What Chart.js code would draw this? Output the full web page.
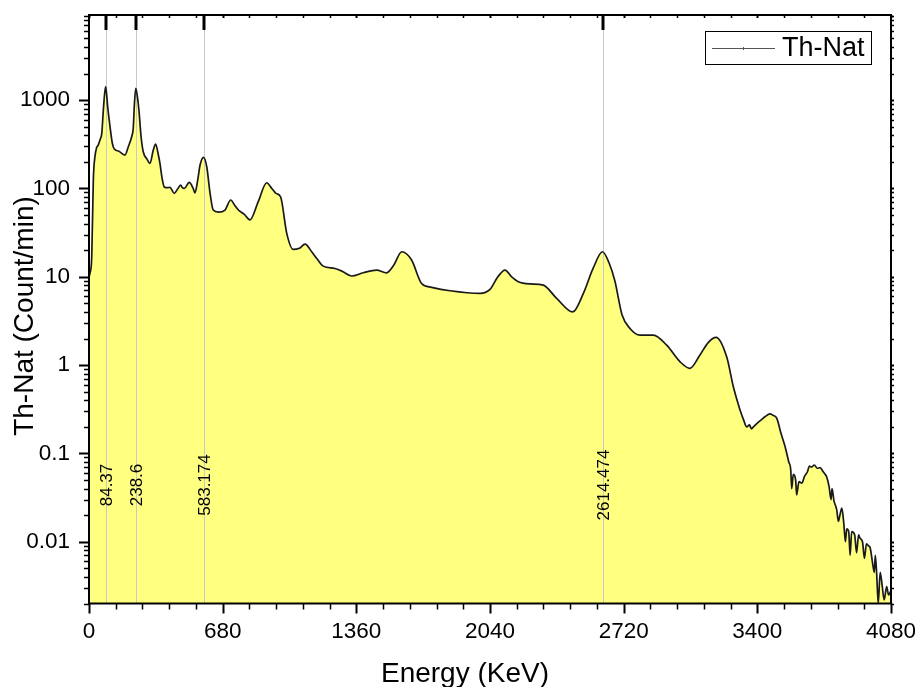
<!DOCTYPE html>
<html>
<head>
<meta charset="utf-8">
<script src="https://cdn.jsdelivr.net/npm/chart.js@4.4.1/dist/chart.umd.min.js"></script>
<style>
    html, body { margin: 0; padding: 0; background: #fff; }
    #wrap { width: 915px; height: 687px; position: relative; }
</style>
</head>
<body>
<div id="wrap"><canvas id="spectrumChart"></canvas></div>
<script>
// ==========================================
// 1. DADOS
// ==========================================

const seriesName = 'Th-Nat';
const xTitle = 'Energy (KeV)';
const yTitle = 'Th-Nat (Count/min)';

// energia (keV)
const energies = [
    0, 5, 14, 22, 30, 39, 47, 57, 65, 73, 79, 85, 95, 107, 119, 129, 150, 183, 200, 217,
    225, 231, 238, 246, 254, 265, 276, 295, 310, 327, 339, 353, 361, 372, 383, 400, 412, 434, 450, 466,
    475, 485, 510, 530, 539, 553, 565, 583, 599, 616, 632, 658, 692, 721, 740, 760, 790, 819, 861, 904,
    930, 951, 975, 1006, 1039, 1070, 1099, 1133, 1160, 1192, 1251, 1290, 1336, 1395, 1463, 1514, 1550, 1591, 1641, 1692,
    1743, 1837, 1989, 2040, 2080, 2116, 2150, 2184, 2244, 2311, 2379, 2461, 2515, 2565, 2612, 2645, 2675, 2712, 2752, 2803,
    2871, 2939, 3007, 3057, 3108, 3150, 3190, 3244, 3278, 3300, 3312, 3330, 3346, 3360, 3370, 3380, 3400, 3420, 3439, 3464,
    3480, 3499, 3520, 3541, 3560, 3570, 3575, 3583, 3595, 3600, 3612, 3626, 3640, 3655, 3665, 3676, 3690, 3705, 3719, 3735,
    3753, 3765, 3775, 3780, 3790, 3804, 3812, 3820, 3830, 3840, 3848, 3855, 3865, 3872, 3880, 3895, 3905, 3915, 3922, 3935,
    3945, 3955, 3965, 3973, 3985, 3995, 4000, 4007, 4015, 4025, 4035, 4045, 4058, 4068, 4080
];

// contagens (Count/min)
const counts = [
    10, 11, 17, 124, 228, 290, 310, 360, 420, 775, 1150, 1420, 840, 500, 323, 279, 265, 239, 297, 385,
    480, 900, 1360, 1100, 773, 385, 260, 215, 192, 272, 318, 239, 192, 130, 104, 102, 103, 88, 98, 109,
    102, 100, 117, 100, 89, 124, 184, 225, 176, 88, 57, 54, 57, 74, 65, 57, 51, 44, 71, 116,
    100, 88, 80, 31, 20.4, 21, 23.4, 19.2, 16, 13.2, 12.4, 11.5, 10.2, 11.1, 11.9, 11.1, 13.5, 19.2, 15.5, 8.4,
    7.6, 6.95, 6.5, 7.2, 10, 11.9, 10, 8.8, 8.3, 8.05, 5.7, 4.0, 6.5, 12.5, 19.2, 14.5, 9, 3.7, 2.6, 2.19,
    2.19, 1.68, 1.09, 0.92, 1.3, 1.8, 2.06, 1.24, 0.57, 0.38, 0.31, 0.24, 0.20, 0.21, 0.19, 0.20, 0.22, 0.24, 0.26, 0.28,
    0.27, 0.25, 0.17, 0.12, 0.08, 0.065, 0.040, 0.058, 0.050, 0.034, 0.048, 0.046, 0.055, 0.062, 0.072, 0.070, 0.074, 0.068, 0.069, 0.062,
    0.054, 0.042, 0.030, 0.040, 0.029, 0.023, 0.017, 0.020, 0.024, 0.016, 0.010, 0.014, 0.013, 0.007, 0.013, 0.012, 0.0075, 0.012, 0.011, 0.010,
    0.0065, 0.0095, 0.009, 0.0087, 0.006, 0.0045, 0.007, 0.0044, 0.002, 0.0045, 0.0032, 0.0022, 0.0031, 0.0025, 0.0028
];

// picos marcados
const peakEnergies = [84.37, 238.6, 583.174, 2614.474];
const peakLabels = ['84.37', '238.6', '583.174', '2614.474'];

// eixos
const xTickValues = [0, 680, 1360, 2040, 2720, 3400, 4080];
const yTickValues = [0.01, 0.1, 1, 10, 100, 1000];

const FONT = 'Arial, "Liberation Sans", sans-serif';

// ==========================================
// 2. PLUGIN: moldura, ticks, picos, títulos e legenda
// ==========================================

function drawFrameAndTicks(chart) {
    const ctx = chart.ctx;
    const a = chart.chartArea;
    const xs = chart.scales.x;
    const ys = chart.scales.y;

    ctx.save();
    ctx.strokeStyle = '#000';

    // ticks do eixo x (a cada 136 keV, maior a cada 680)
    for (let e = 0; e <= 4080; e += 136) {
        const px = Math.round(xs.getPixelForValue(e)) + 0.5;
        const major = e % 680 === 0;
        ctx.lineWidth = major ? 2 : 1.5;
        ctx.beginPath();
        ctx.moveTo(px, a.bottom);
        ctx.lineTo(px, a.bottom + (major ? 10 : 6));
        ctx.moveTo(px, a.top);
        ctx.lineTo(px, a.top + 3);
        ctx.stroke();
    }

    // ticks do eixo y (log)
    for (let p = -3; p <= 3; p++) {
        for (let m = 1; m <= 9; m++) {
            const v = m * Math.pow(10, p);
            if (v < ys.min || v > ys.max) continue;
            const py = Math.round(ys.getPixelForValue(v)) + 0.5;
            const major = m === 1;
            ctx.lineWidth = major ? 2 : 1.5;
            ctx.beginPath();
            ctx.moveTo(a.left, py);
            ctx.lineTo(a.left - (major ? 10 : 5), py);
            ctx.moveTo(a.right, py);
            ctx.lineTo(a.right + 3, py);
            ctx.stroke();
        }
    }

    // moldura
    ctx.lineWidth = 2;
    ctx.strokeRect(a.left, a.top, a.right - a.left, a.bottom - a.top);
    ctx.restore();
}

function drawPeakLabels(chart) {
    const ctx = chart.ctx;
    const a = chart.chartArea;
    const xs = chart.scales.x;

    ctx.save();
    peakEnergies.forEach((e, i) => {
        const px = Math.round(xs.getPixelForValue(e));
        // marca preta no topo
        ctx.fillStyle = '#000';
        ctx.fillRect(px - 1.5, a.top, 3, 15);

        // rótulo vertical
        ctx.save();
        ctx.translate(px + 1, 485);
        ctx.rotate(-Math.PI / 2);
        ctx.font = '17px ' + FONT;
        ctx.textAlign = 'center';
        ctx.textBaseline = 'middle';
        ctx.fillText(peakLabels[i], 0, 0);
        ctx.restore();
    });
    ctx.restore();
}

// títulos dos eixos (o original não está centrado na área do gráfico)
function drawAxisTitles(chart) {
    const ctx = chart.ctx;
    ctx.save();
    ctx.fillStyle = '#000';
    ctx.font = '28px ' + FONT;
    ctx.textAlign = 'center';
    ctx.textBaseline = 'alphabetic';
    ctx.fillText(xTitle, 465, 682);

    ctx.translate(33, 316);
    ctx.rotate(-Math.PI / 2);
    ctx.fillText(yTitle, 0, 0);
    ctx.restore();
}

function drawLegendBox(chart) {
    const ctx = chart.ctx;
    ctx.save();
    ctx.fillStyle = '#fff';
    ctx.fillRect(705, 31, 167, 33);
    ctx.strokeStyle = '#000';
    ctx.lineWidth = 1;
    ctx.strokeRect(705.5, 31.5, 166, 33);

    ctx.strokeStyle = '#555';
    ctx.beginPath();
    ctx.moveTo(712, 48.5);
    ctx.lineTo(775, 48.5);
    ctx.moveTo(743.5, 47);
    ctx.lineTo(743.5, 50);
    ctx.stroke();

    ctx.fillStyle = '#000';
    ctx.font = '27px ' + FONT;
    ctx.textAlign = 'left';
    ctx.textBaseline = 'middle';
    ctx.fillText(seriesName, 782, 49);
    ctx.restore();
}

// tira o espaço extra que o Chart.js reserva para os rótulos das pontas
function fixScalePadding(s) {
    s.paddingTop = 0;
    s.paddingBottom = 0;
    s.paddingLeft = 0;
    s.paddingRight = 0;
}

const decorPlugin = {
    id: 'spectrumDecor',
    beforeDatasetDraw(chart) {
        // linhas cinzas dos picos (por cima do preenchimento, por baixo da curva)
        const ctx = chart.ctx;
        const a = chart.chartArea;
        ctx.save();
        ctx.strokeStyle = '#c8c8c8';
        ctx.lineWidth = 1;
        peakEnergies.forEach(e => {
            const px = Math.round(chart.scales.x.getPixelForValue(e)) + 0.5;
            ctx.beginPath();
            ctx.moveTo(px, a.top);
            ctx.lineTo(px, a.bottom);
            ctx.stroke();
        });
        ctx.restore();
    },
    afterDatasetsDraw(chart) {
        drawPeakLabels(chart);
    },
    afterDraw(chart) {
        drawFrameAndTicks(chart);
        drawAxisTitles(chart);
        drawLegendBox(chart);
    }
};

// ==========================================
// 3. GRÁFICO (CHART.JS)
// ==========================================

document.addEventListener('DOMContentLoaded', () => {
    renderChart();
});

function renderChart() {
    const canvas = document.getElementById('spectrumChart');
    if (!canvas) return;

    const points = energies.map((e, i) => ({ x: e, y: counts[i] }));

    new Chart(canvas.getContext('2d'), {
        type: 'line',
        data: {
            datasets: [{
                label: seriesName,
                data: points,
                borderColor: '#1a1a1a',
                borderWidth: 1.7,
                backgroundColor: '#ffff80',
                fill: 'start',
                pointRadius: 0,
                cubicInterpolationMode: 'monotone'
            }]
        },
        options: {
            responsive: true,
            maintainAspectRatio: false,
            animation: false,
            devicePixelRatio: 1,
            layout: { padding: { top: 15, right: 24, bottom: 0, left: 0 } },
            plugins: {
                legend: { display: false },
                tooltip: { enabled: false }
            },
            scales: {
                x: {
                    type: 'linear',
                    min: 0,
                    max: 4080,
                    afterBuildTicks: s => { s.ticks = xTickValues.map(v => ({ value: v })); },
                    afterFit: s => { s.height = 83.5; fixScalePadding(s); },
                    grid: { display: false, drawTicks: false },
                    border: { display: false },
                    ticks: {
                        color: '#000',
                        font: { family: FONT, size: 22.5 },
                        padding: 15,
                        maxRotation: 0,
                        autoSkip: false,
                        callback: v => String(v)
                    }
                },
                y: {
                    type: 'logarithmic',
                    min: 0.002,
                    max: 9200,
                    afterBuildTicks: s => { s.ticks = yTickValues.map(v => ({ value: v })); },
                    afterFit: s => { s.width = 89; fixScalePadding(s); },
                    grid: { display: false, drawTicks: false },
                    border: { display: false },
                    ticks: {
                        color: '#000',
                        font: { family: FONT, size: 22.5 },
                        padding: 19,
                        callback: v => String(v)
                    }
                }
            }
        },
        plugins: [decorPlugin]
    });
}
</script>
</body>
</html>
